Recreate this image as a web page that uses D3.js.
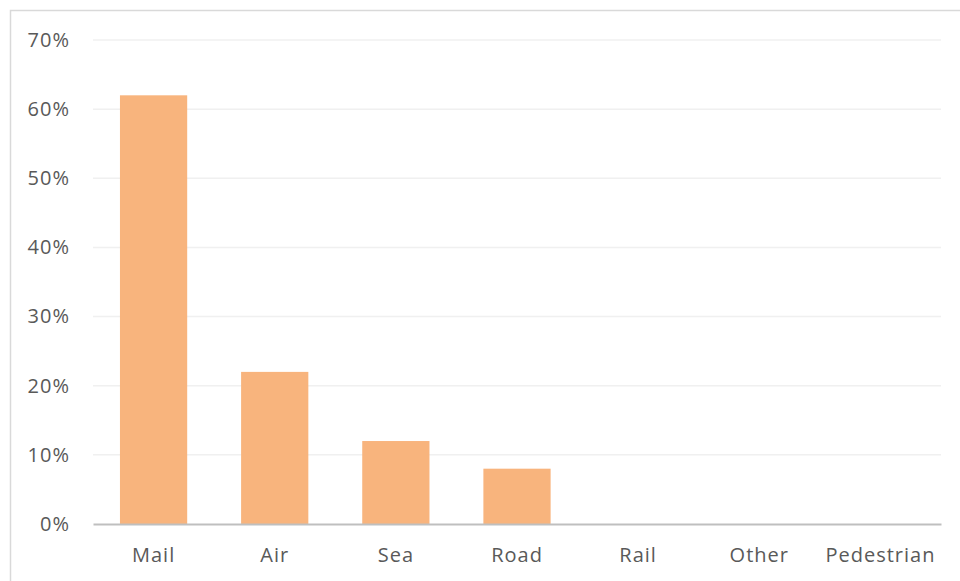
<!DOCTYPE html>
<html>
<head>
<meta charset="utf-8">
<script src="https://cdn.jsdelivr.net/npm/d3@7/dist/d3.min.js"></script>
<style>
  html, body { margin: 0; padding: 0; background: #fff; }
  svg { display: block; }
</style>
</head>
<body>
<svg id="chart" width="960" height="581"></svg>
<script>
// Share of shipments by transport mode
const categories = ["Mail", "Air", "Sea", "Road", "Rail", "Other", "Pedestrian"];
const values = [0.62, 0.22, 0.12, 0.08, 0, 0, 0];
const yTicks = [0, 0.1, 0.2, 0.3, 0.4, 0.5, 0.6, 0.7];

const svg = d3.select("#chart");
const W = 960, H = 581;
const margin = { top: 40, right: 19, bottom: 57, left: 93 };
const innerW = W - margin.left - margin.right;
const innerH = H - margin.top - margin.bottom;
const font = "'Open Sans', 'Noto Sans', sans-serif";

// chart area frame
svg.append("rect")
  .attr("x", 10.5).attr("y", 10.5)
  .attr("width", 960).attr("height", 600)
  .attr("fill", "#fff")
  .attr("stroke", "#D9D9D9").attr("stroke-width", 1.5);

const g = svg.append("g").attr("transform", `translate(${margin.left},${margin.top})`);

const x = d3.scaleBand().domain(categories).range([0, innerW]).paddingInner(0.445).paddingOuter(0.2225);
const y = d3.scaleLinear().domain([0, 0.7]).range([innerH, 0]);

// horizontal gridlines
g.append("g")
  .selectAll("line")
  .data(yTicks.filter(t => t > 0))
  .join("line")
  .attr("x1", 0).attr("x2", innerW)
  .attr("y1", d => y(d)).attr("y2", d => y(d))
  .attr("stroke", "#F0F0F0").attr("stroke-width", 1.5);

// y axis labels
const yAxis = d3.axisLeft(y).tickValues(yTicks).tickFormat(d3.format(".0%")).tickSize(0).tickPadding(23);
const yg = g.append("g").call(yAxis);
yg.select(".domain").remove();
yg.selectAll("text")
  .attr("font-family", font).attr("font-size", 20).attr("letter-spacing", 1)
  .attr("fill", "#595959");

// bars
g.append("g")
  .selectAll("rect")
  .data(categories.map((c, i) => ({ c, v: values[i] })))
  .join("rect")
  .attr("x", d => x(d.c))
  .attr("y", d => y(d.v))
  .attr("width", x.bandwidth())
  .attr("height", d => innerH - y(d.v))
  .attr("fill", "#F8B47D");

// x axis
const xAxis = d3.axisBottom(x).tickSize(0).tickPadding(24);
const xg = g.append("g").attr("transform", `translate(0,${innerH})`).call(xAxis);
xg.select(".domain").attr("stroke", "#BFBFBF").attr("stroke-width", 2.2);
xg.selectAll("text")
  .attr("font-family", font).attr("font-size", 20).attr("letter-spacing", 1)
  .attr("fill", "#595959");
</script>
</body>
</html>
